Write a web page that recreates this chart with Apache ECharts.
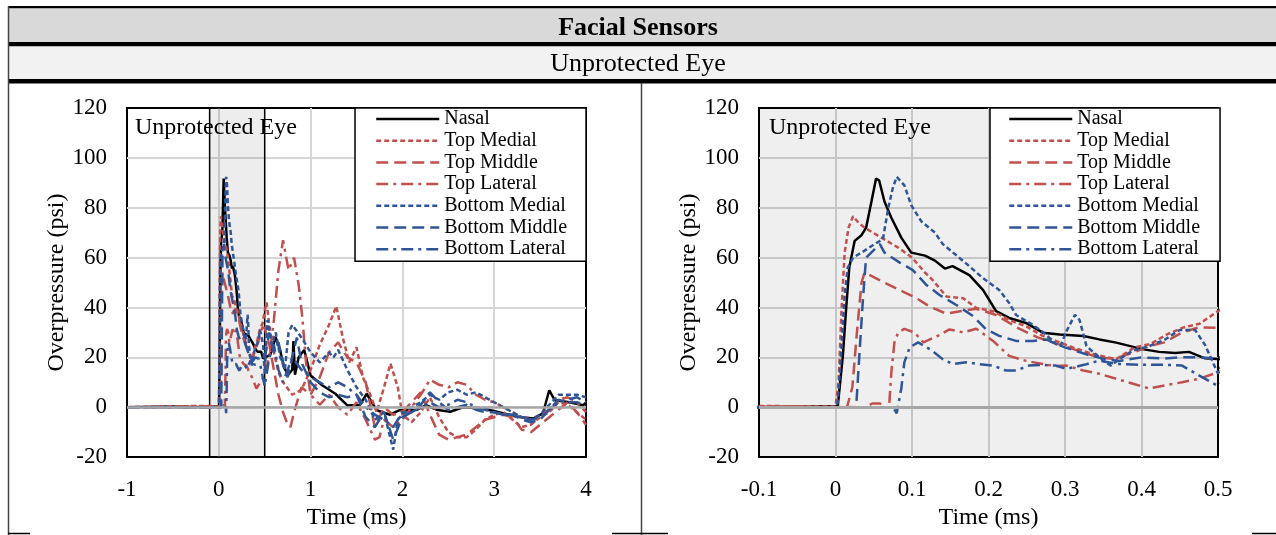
<!DOCTYPE html>
<html><head><meta charset="utf-8">
<script src="https://cdn.jsdelivr.net/npm/echarts@6/dist/echarts.min.js"></script>
<style>html,body{margin:0;padding:0;background:#fff}#c{width:1276px;height:535px}</style>
</head><body><div id="c"></div><script>
const seriesNames = ['Nasal','Top Medial','Top Middle','Top Lateral','Bottom Medial','Bottom Middle','Bottom Lateral'];

const nasal = [[-1,0],[-0.5,0.3],[-0.1,0],[0.003,0.5],[0.0096,20.6],[0.014,40],[0.018,56],[0.025,66.7],[0.034,69],[0.04,72],[0.047,82.5],[0.053,91.7],[0.057,91],[0.064,82.5],[0.073,76],[0.086,68],[0.099,62],[0.117,60.8],[0.13,58.8],[0.143,55.6],[0.153,56.6],[0.175,53],[0.193,47],[0.21,38.5],[0.227,35.8],[0.249,33.8],[0.271,29.9],[0.293,29.2],[0.324,28.6],[0.345,27.2],[0.367,25.9],[0.384,24.6],[0.401,23.3],[0.423,22.2],[0.444,21.7],[0.462,22.2],[0.483,19.6],[0.5,19.3],[0.56,21],[0.62,28],[0.667,23],[0.71,16],[0.756,13],[0.8,15],[0.813,26.5],[0.83,13],[0.87,20],[0.93,23],[1.0,12.7],[1.13,8.7],[1.27,5.4],[1.4,0.7],[1.54,1],[1.61,5.4],[1.72,-1.2],[1.865,-3],[1.97,-1.2],[2.16,-1],[2.26,0.8],[2.37,-1],[2.52,-1.8],[2.66,0],[2.88,-0.5],[3.03,-1.8],[3.25,-3.8],[3.43,-4.5],[3.53,-2.5],[3.6,6.8],[3.66,2.8],[3.82,2],[3.97,0.8],[4,2]];

const topMedial = [[-1,0],[-0.5,0.4],[-0.1,0.5],[0,0.3],[0.004,10],[0.008,40],[0.012,62],[0.017,72],[0.023,76.6],[0.03,74],[0.038,72],[0.06,68],[0.082,64],[0.1,60],[0.117,54],[0.127,51],[0.145,44.4],[0.167,43.7],[0.184,39.8],[0.206,38.5],[0.227,35],[0.249,32.5],[0.271,28.6],[0.288,26.6],[0.31,24],[0.33,22],[0.345,20.7],[0.367,19.3],[0.391,24],[0.412,25.4],[0.434,29.3],[0.455,32],[0.476,33.5],[0.5,38.5],[0.52,42],[0.56,30],[0.6,22],[0.65,14],[0.7,10],[0.8,5],[0.9,7],[1.0,15],[1.1,25],[1.2,33],[1.28,40.5],[1.35,28],[1.42,18],[1.5,24],[1.57,12],[1.65,5],[1.72,-2],[1.8,8],[1.87,17.5],[1.95,8],[2.0,-3],[2.1,-6],[2.2,-2],[2.3,4],[2.4,-4],[2.5,-10],[2.6,-12],[2.7,-12],[2.8,-9],[2.9,-5],[3.0,-3],[3.1,-2],[3.2,-5],[3.3,-8],[3.4,-7],[3.5,-4],[3.6,-2],[3.7,2],[3.8,1],[3.9,-2],[4.0,-5]];

const topMiddle = [[-1,0],[-0.1,0],[0.015,0],[0.022,8],[0.028,30],[0.034,50],[0.038,54],[0.062,50.3],[0.088,46.4],[0.106,43.7],[0.123,40.4],[0.145,37.5],[0.163,38.5],[0.184,39.5],[0.21,37],[0.237,32],[0.264,28],[0.29,25.4],[0.317,22.7],[0.343,20],[0.365,19.4],[0.39,22],[0.41,24.5],[0.43,26],[0.453,30],[0.475,32],[0.5,31.8],[0.55,25],[0.6,15],[0.65,5],[0.7,-2],[0.75,-7],[0.78,-8],[0.82,-2],[0.9,8],[1.0,5],[1.1,12],[1.2,22],[1.3,26],[1.4,20],[1.5,18],[1.6,10],[1.7,-8],[1.8,0],[1.9,-3],[2.0,-2],[2.1,2],[2.2,6],[2.3,-3],[2.4,-11],[2.5,-13],[2.6,-12],[2.7,-11],[2.8,-8],[2.9,-5],[3.0,-4],[3.1,-3],[3.2,-4],[3.3,-9],[3.4,-10],[3.5,-7],[3.6,-4],[3.7,-1],[3.8,2],[3.9,-2],[4.0,-7]];

const topLateral = [[-1,0],[-0.1,0.4],[0.04,0],[0.048,1.5],[0.058,1.5],[0.066,0],[0.07,0],[0.073,14],[0.077,26],[0.082,30],[0.09,31.4],[0.103,30],[0.115,26],[0.136,29],[0.149,31.2],[0.167,30],[0.184,31.5],[0.206,26.6],[0.227,20.6],[0.249,18.6],[0.271,17.3],[0.288,16.5],[0.302,16.7],[0.324,14.7],[0.345,13.4],[0.367,11.4],[0.388,9.5],[0.41,7.5],[0.431,8.8],[0.453,10],[0.475,11.4],[0.5,14],[0.55,20],[0.6,35],[0.65,55],[0.7,67],[0.76,55],[0.82,60],[0.87,49],[0.91,36],[0.95,18],[1.0,5],[1.1,1],[1.2,5],[1.3,0],[1.4,-3],[1.5,2],[1.6,-5],[1.7,-13],[1.75,-12],[1.8,-5],[1.9,-8],[2.0,-5],[2.1,0],[2.2,5],[2.3,11],[2.4,9],[2.5,8],[2.6,10],[2.7,9],[2.8,5],[2.9,3],[3.0,2],[3.1,0],[3.2,-2],[3.3,-4],[3.4,-5],[3.5,-3],[3.6,-1],[3.7,3],[3.8,4],[3.9,2],[4.0,-2]];

const bottomMedial = [[-1,0],[-0.1,0],[0,0],[0.003,2],[0.008,25],[0.012,45],[0.016,56],[0.023,60],[0.038,62.8],[0.051,65.4],[0.062,67.4],[0.069,80],[0.075,88],[0.08,92.4],[0.09,89],[0.099,81],[0.112,74.6],[0.13,70],[0.14,65.5],[0.171,57.6],[0.193,51.7],[0.214,47],[0.227,41.8],[0.236,37],[0.258,33],[0.275,29.2],[0.288,25.3],[0.294,24.6],[0.302,30.5],[0.313,37.1],[0.319,35],[0.328,24.6],[0.337,22],[0.35,18.7],[0.36,16.7],[0.371,19.3],[0.388,22.6],[0.41,24.5],[0.43,27],[0.45,31],[0.47,31],[0.483,25],[0.5,13.5],[0.53,35],[0.58,25],[0.62,30],[0.67,20],[0.72,15],[0.76,30],[0.8,33],[0.9,28],[1.0,22],[1.1,18],[1.2,22],[1.25,20],[1.3,23],[1.35,19],[1.4,15],[1.5,8],[1.6,3],[1.7,-5],[1.8,-2],[1.9,-17],[1.95,-5],[2.0,-3],[2.1,0],[2.2,2],[2.3,5],[2.4,3],[2.5,6],[2.6,7],[2.7,5],[2.8,6],[2.9,4],[3.0,2],[3.1,0],[3.2,-2],[3.3,-4],[3.4,-5],[3.5,-3],[3.6,1],[3.7,5],[3.8,5],[3.9,5],[4.0,4]];

const bottomMiddle = [[-1,0],[-0.1,0],[0.027,0],[0.031,20],[0.036,44],[0.04,60],[0.05,63],[0.058,65.4],[0.064,62],[0.084,58],[0.101,55],[0.119,49],[0.136,45],[0.158,41],[0.18,36.5],[0.197,31.2],[0.214,28.6],[0.236,26.6],[0.258,26.6],[0.275,27.2],[0.284,26],[0.3,24],[0.33,21],[0.35,19.5],[0.37,18.5],[0.4,20],[0.43,19.5],[0.45,20],[0.475,20],[0.5,19.5],[0.55,30],[0.6,22],[0.65,26],[0.7,18],[0.75,12],[0.8,20],[0.85,28],[0.9,18],[1.0,10],[1.1,6],[1.2,4],[1.3,5],[1.4,4],[1.5,5],[1.6,-4],[1.7,-8],[1.8,-2],[1.9,-13],[2.0,-4],[2.1,-2],[2.2,1],[2.3,6],[2.4,2],[2.5,-1],[2.6,0],[2.7,1],[2.8,-1],[2.9,-2],[3.0,-2],[3.1,-3],[3.2,-3],[3.3,-5],[3.4,-6],[3.5,-5],[3.6,-1],[3.7,3],[3.8,2],[3.9,2],[4.0,1]];

const bottomLateral = [[-1,0],[-0.1,0],[0.075,0],[0.08,-2.4],[0.086,7.5],[0.09,18],[0.097,24],[0.108,26],[0.125,23],[0.14,19.3],[0.153,17.3],[0.171,18],[0.188,17.3],[0.206,16.7],[0.223,14.7],[0.236,14.7],[0.253,16.7],[0.271,17],[0.288,16.7],[0.302,15.4],[0.325,17],[0.345,18.7],[0.367,17.4],[0.4,17],[0.43,17],[0.453,16.7],[0.475,12.8],[0.5,8.5],[0.55,20],[0.6,25],[0.65,15],[0.7,10],[0.8,20],[0.9,15],[1.0,12],[1.1,10],[1.2,8],[1.3,10],[1.4,8],[1.5,5],[1.6,0],[1.7,-3],[1.8,-5],[1.9,-8],[2.0,-2],[2.1,-2],[2.2,0],[2.3,2],[2.4,0],[2.5,1],[2.6,3],[2.7,2],[2.8,0],[2.9,-1],[3.0,-2],[3.1,-3],[3.2,-3],[3.3,-4],[3.4,-5],[3.5,-4],[3.6,-1],[3.7,2],[3.8,3],[3.9,4],[4.0,2]];

const shadeRange = [-0.1, 0.5];
const zeroLevel = 0;

const allData = [nasal, topMedial, topMiddle, topLateral, bottomMedial, bottomMiddle, bottomLateral];
const RED = '#c0504d', BLUE = '#2f5597';
const styles = [
  {color:'#000', type:'solid', width:2.5},
  {color:RED, type:[5,3], width:2.5},
  {color:RED, type:[12,6], width:2.5},
  {color:RED, type:[12,5,3,5], width:2.5},
  {color:BLUE, type:[5,3], width:2.5},
  {color:BLUE, type:[12,6], width:2.5},
  {color:BLUE, type:[12,5,3,5], width:2.5}
];
const FONT = "'Liberation Serif','Times New Roman',serif";

const chart = echarts.init(document.getElementById('c'), null, {renderer:'canvas'});

function mk(i, gi) {
  const st = styles[i];
  return {
    name: seriesNames[i], type:'line', xAxisIndex:gi, yAxisIndex:gi,
    data: allData[i], symbol:'none', showSymbol:false, smooth:false,
    lineStyle:{color:st.color, width:st.width, type:st.type},
    itemStyle:{color:st.color}, emphasis:{disabled:true}, z:3
  };
}

const series = [];
series.push({type:'line', xAxisIndex:0, yAxisIndex:0, data:[], z:1, silent:true,
  markLine:{silent:true, symbol:'none', label:{show:false}, lineStyle:{color:'#a6a6a6', width:2.5, type:'solid'}, data:[{yAxis:zeroLevel}]},
  markArea:{silent:true, label:{show:false}, itemStyle:{color:'rgba(0,0,0,0.07)', borderColor:'#000', borderWidth:1.5}, data:[[{xAxis:shadeRange[0]},{xAxis:shadeRange[1]}]]}
});
series.push({type:'line', xAxisIndex:1, yAxisIndex:1, data:[], z:1, silent:true,
  markLine:{silent:true, symbol:'none', label:{show:false}, lineStyle:{color:'#a6a6a6', width:3, type:'solid'}, data:[{yAxis:zeroLevel}]}
});
for (let i = 0; i < 7; i++) series.push(mk(i, 0));
for (let i = 0; i < 7; i++) series.push(mk(i, 1));

const axisLabelStyle = {fontFamily:FONT, fontSize:23, color:'#000'};
function yAxis(gi, gap, split) {
  return {type:'value', gridIndex:gi, min:-20, max:120, interval:20,
    name:'Overpressure (psi)', nameLocation:'middle', nameGap:gap, nameRotate:90,
    nameTextStyle:{fontFamily:FONT, fontSize:24, color:'#000'},
    axisLine:{show:false}, axisTick:{show:false},
    axisLabel:Object.assign({margin:20}, axisLabelStyle),
    splitLine:{show:true, showMinLine:false, showMaxLine:false, lineStyle:{color:split, width:2}}};
}
function xAxis(gi, mn, mx, iv, gap, split, fmt) {
  return {type:'value', gridIndex:gi, min:mn, max:mx, interval:iv,
    name:'Time (ms)', nameLocation:'middle', nameGap:gap,
    nameTextStyle:{fontFamily:FONT, fontSize:24, color:'#000'},
    axisLine:{show:false}, axisTick:{show:false},
    axisLabel:Object.assign({margin:21, formatter:fmt}, axisLabelStyle),
    splitLine:{show:true, showMinLine:false, showMaxLine:false, lineStyle:{color:split, width:2}}};
}
function legend(left, padL, padR) {
  return {data:seriesNames, orient:'vertical', left:left, top:108,
    padding:[1,padR,2,padL], itemWidth:63, itemHeight:14, itemGap:1.7,
    borderColor:'#000', borderWidth:1.5, backgroundColor:'#fff', borderRadius:0,
    selectedMode:false,
    itemStyle:{opacity:0, borderWidth:0},
    lineStyle:{width:2.5},
    textStyle:{fontFamily:FONT, fontSize:20, color:'#000', lineHeight:20}};
}

chart.setOption({
  animation:false,
  backgroundColor:'#fff',
  title:[
    {text:'Unprotected Eye', left:135, top:116, padding:0, textStyle:{fontFamily:FONT, fontSize:24, fontWeight:'normal', color:'#000'}},
    {text:'Unprotected Eye', left:769, top:116, padding:0, textStyle:{fontFamily:FONT, fontSize:24, fontWeight:'normal', color:'#000'}}
  ],
  legend:[legend(355, 20, 19), legend(990, 18, 20)],
  grid:[
    {left:127, top:108, width:459, height:353, show:true, borderColor:'#000', borderWidth:2, backgroundColor:'#fff', containLabel:false},
    {left:759, top:108, width:459, height:356, show:true, borderColor:'#000', borderWidth:2, backgroundColor:'#efefef', containLabel:false}
  ],
  xAxis:[
    xAxis(0, -1, 4, 1, 45, '#d6d6d6', v => String(Math.round(v))),
    xAxis(1, -0.1, 0.5, 0.1, 42, '#c6c6c6', v => { const r = Math.round(v*10)/10; return r === 0 ? '0' : r.toFixed(1); })
  ],
  yAxis:[yAxis(0, 58, '#d6d6d6'), yAxis(1, 51, '#c6c6c6')],
  series:series,
  graphic:[
    {type:'rect', silent:true, shape:{x:8, y:6, width:1268, height:2.5}, style:{fill:'#000'}},
    {type:'rect', silent:true, shape:{x:8, y:8.5, width:1268, height:33.5}, style:{fill:'#d9d9d9'}},
    {type:'rect', silent:true, shape:{x:8, y:42, width:1268, height:4.5}, style:{fill:'#000'}},
    {type:'rect', silent:true, shape:{x:8, y:46.5, width:1268, height:32.5}, style:{fill:'#f2f2f2'}},
    {type:'rect', silent:true, shape:{x:8, y:79, width:1268, height:4.5}, style:{fill:'#000'}},
    {type:'line', silent:true, shape:{x1:8.5, y1:6, x2:8.5, y2:535}, style:{stroke:'#444', lineWidth:1.5}},
    {type:'line', silent:true, shape:{x1:641.5, y1:83, x2:641.5, y2:535}, style:{stroke:'#444', lineWidth:1.5}},
    {type:'line', silent:true, shape:{x1:8, y1:533.5, x2:30, y2:533.5}, style:{stroke:'#000', lineWidth:1.5}},
    {type:'line', silent:true, shape:{x1:612, y1:533.5, x2:668, y2:533.5}, style:{stroke:'#000', lineWidth:1.5}},
    {type:'line', silent:true, shape:{x1:1252, y1:533.5, x2:1276, y2:533.5}, style:{stroke:'#000', lineWidth:1.5}},
    {type:'text', silent:true, left:'center', top:15, style:{text:'Facial Sensors', fontFamily:FONT, fontSize:26, fontWeight:'bold', fill:'#000'}},
    {type:'text', silent:true, left:'center', top:51, style:{text:'Unprotected Eye', fontFamily:FONT, fontSize:26, fill:'#000'}}
  ]
});
</script></body></html>
